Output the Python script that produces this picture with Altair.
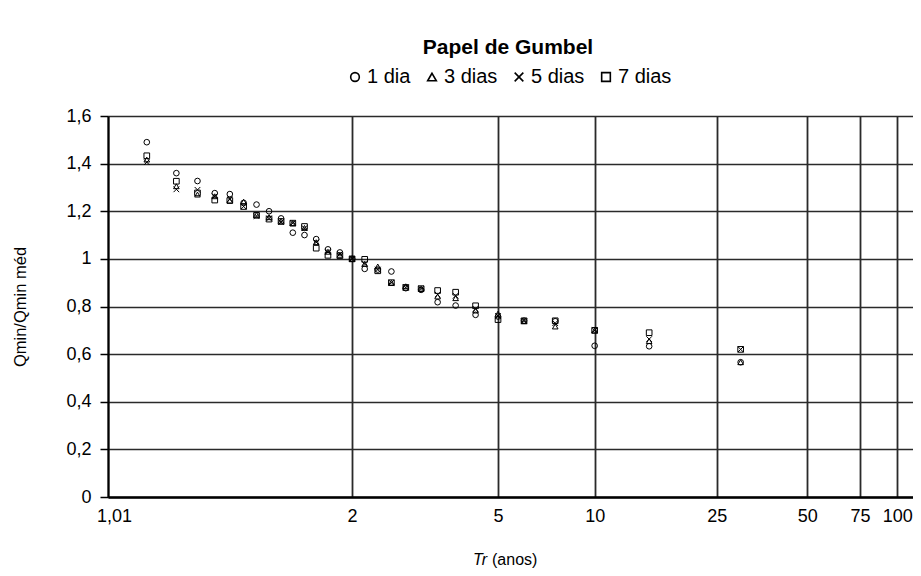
import altair as alt
import numpy as np
import pandas as pd

# Return periods (Tr, anos) of the plotted points, ascending
tr = [1.034, 1.071, 1.111, 1.154, 1.2, 1.25, 1.304, 1.364, 1.429, 1.5,
      1.579, 1.667, 1.765, 1.875, 2.0, 2.143, 2.308, 2.5, 2.727, 3.0,
      3.333, 3.75, 4.286, 5.0, 6.0, 7.5, 10.0, 15.0, 30.0]

dia1 = [1.49, 1.36, 1.327, 1.276, 1.272, 1.235, 1.228, 1.20, 1.17, 1.11,
        1.10, 1.083, 1.04, 1.027, 1.0, 0.958, 0.955, 0.947, 0.877, 0.87,
        0.818, 0.804, 0.765, 0.758, 0.74, 0.738, 0.635, 0.633, 0.566]
dia3 = [1.417, 1.305, 1.27, 1.263, 1.245, 1.24, 1.185, 1.175, 1.16, 1.15,
        1.13, 1.07, 1.03, 1.017, 1.0, 0.979, 0.968, 0.90, 0.885, 0.875,
        0.842, 0.835, 0.783, 0.77, 0.738, 0.716, 0.699, 0.655, 0.566]
dia5 = [1.406, 1.292, 1.29, 1.263, 1.25, 1.22, 1.18, 1.17, 1.155, 1.15,
        1.129, 1.07, 1.03, 1.02, 1.0, 0.979, 0.955, 0.90, 0.88, 0.875,
        0.85, 0.845, 0.79, 0.76, 0.738, 0.73, 0.70, 0.663, 0.62]
dia7 = [1.433, 1.326, 1.277, 1.247, 1.245, 1.22, 1.183, 1.167, 1.157, 1.15,
        1.136, 1.045, 1.015, 1.013, 1.0, 0.998, 0.95, 0.90, 0.88, 0.875,
        0.867, 0.86, 0.803, 0.745, 0.74, 0.74, 0.70, 0.69, 0.62]

series = ["1 dia", "3 dias", "5 dias", "7 dias"]
tick_tr = [1.01, 2, 5, 10, 25, 50, 75, 100]
y_ticks = [0, 0.2, 0.4, 0.6, 0.8, 1.0, 1.2, 1.4, 1.6]
x_range_tr = [1.01, 113]


def gumbel(t):
    t = np.asarray(t, dtype=float)
    return -np.log(-np.log(1.0 - 1.0 / t))


df = pd.DataFrame({
    "tr": tr * 4,
    "valor": dia1 + dia3 + dia5 + dia7,
    "serie": [s for s in series for _ in tr],
})
df["g"] = gumbel(df["tr"])

FONT = "Liberation Sans"
GRID = "#2a2a2a"

x_dom = [float(v) for v in gumbel(x_range_tr)]
x_vals = [float(v) for v in gumbel(tick_tr)]

points = alt.Chart(df).mark_point(
    size=32, filled=False, color="black", strokeWidth=1, opacity=1
).encode(
    x=alt.X(
        "g:Q",
        scale=alt.Scale(domain=x_dom, nice=False, zero=False),
        axis=alt.Axis(
            values=x_vals,
            labelExpr="replace(format(1/(1-exp(-exp(-datum.value))), '.2~f'), '.', ',')",
            title=None, grid=True, ticks=False, labelFlush=False,
            domainColor="black", domainWidth=2.5,
            gridColor=GRID, gridWidth=1.8,
            labelFontSize=18, labelPadding=10, labelColor="black", labelFont=FONT,
            labelOffset={"condition": {"test": "datum.value < -1.5",
                                       "value": 6}, "value": 0},
        ),
    ),
    y=alt.Y(
        "valor:Q",
        scale=alt.Scale(domain=[0, 1.6], nice=False),
        axis=alt.Axis(
            values=y_ticks,
            labelExpr="replace(format(datum.value, '.1~f'), '.', ',')",
            title="Qmin/Qmin méd", titleX=-88, titleY=190.5, titleAngle=270,
            titleBaseline="middle", titleAlign="center", titleFontSize=16.5,
            titleFontWeight="normal", titleColor="black", titleFont=FONT,
            tickSize=8, tickColor="black", tickWidth=1.5,
            domainColor="black", domainWidth=2,
            gridColor=GRID, gridWidth=1.6,
            labelFontSize=18, labelPadding=9, labelColor="black", labelFont=FONT,
        ),
    ),
    shape=alt.Shape(
        "serie:N",
        scale=alt.Scale(
            domain=series,
            range=["circle", "triangle-up", "M-1,-1L1,1M1,-1L-1,1", "square"],
        ),
        legend=alt.Legend(
            orient="none", legendX=237, legendY=-49, direction="horizontal",
            title=None, labelFontSize=20, labelFont=FONT, labelColor="black",
            symbolSize=75, symbolStrokeWidth=1.6, symbolStrokeColor="black",
            columnPadding=11, labelOffset=2, padding=0,
        ),
    ),
    order=alt.Order("serie:N"),
)

one = pd.DataFrame({"t": ["Papel de Gumbel"], "a": ["Tr"], "b": ["(anos)"]})

title_txt = alt.Chart(one).mark_text(
    font=FONT, fontSize=21, fontWeight="bold", color="black",
    align="center", baseline="middle",
).encode(x=alt.value(400), y=alt.value(-68), text="t:N")

tr_txt = alt.Chart(one).mark_text(
    font=FONT, fontSize=16, fontStyle="italic", color="black",
    align="right", baseline="middle",
).encode(x=alt.value(379), y=alt.value(444), text="a:N")

anos_txt = alt.Chart(one).mark_text(
    font=FONT, fontSize=16, color="black",
    align="left", baseline="middle",
).encode(x=alt.value(384), y=alt.value(444), text="b:N")

chart = alt.layer(points, title_txt, tr_txt, anos_txt).properties(
    width=805, height=381,
    autosize=alt.AutoSizeParams(type="none"),
    padding={"left": 100, "top": 108, "right": 0, "bottom": 71},
    background="white",
).configure(font=FONT).configure_view(stroke=None)

chart.save("out.html", embed_options={"renderer": "svg", "actions": False})
